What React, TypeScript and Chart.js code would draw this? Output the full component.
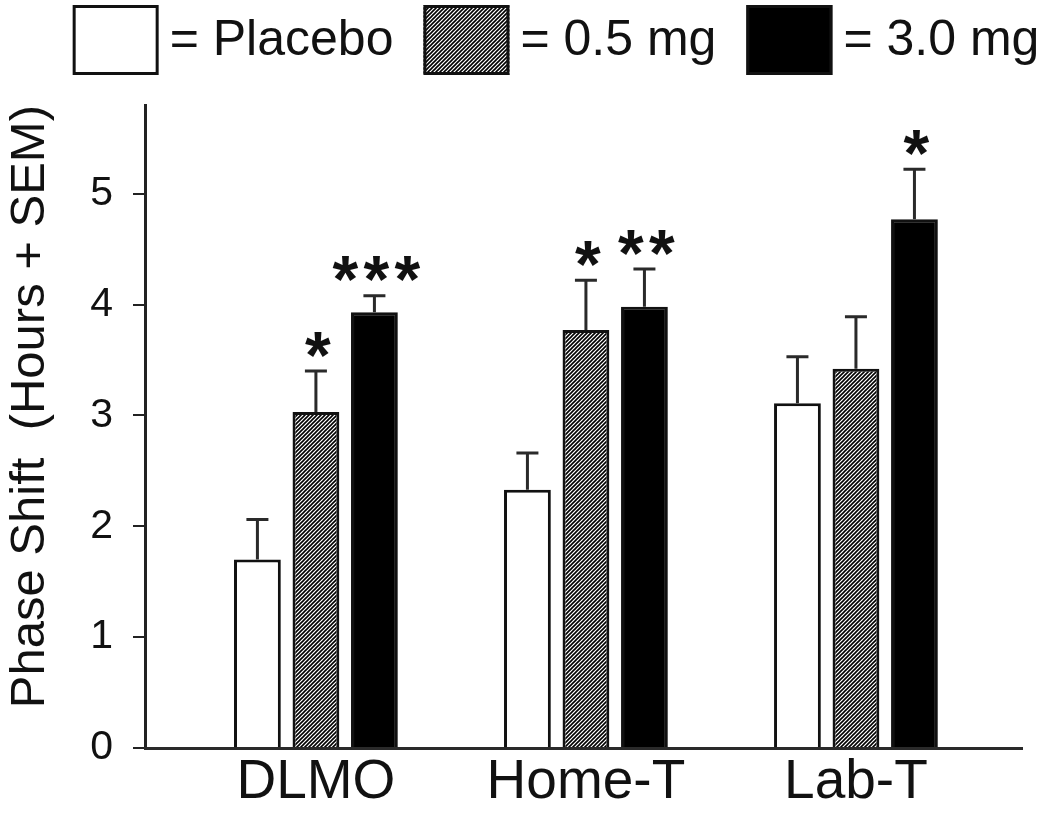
import React, { useEffect, useRef } from 'react';
import { Chart, registerables } from 'chart.js';

Chart.register(...registerables);

// ---------- data ----------
const categories = ['DLMO', 'Home-T', 'Lab-T'];
const seriesNames = ['= Placebo', '= 0.5 mg', '= 3.0 mg'];
const placeboMean = [1.7, 2.33, 3.11];
const placeboSem = [0.36, 0.33, 0.42];
const lowDoseMean = [3.03, 3.77, 3.42];
const lowDoseSem = [0.37, 0.45, 0.47];
const highDoseMean = [3.93, 3.98, 4.77];
const highDoseSem = [0.15, 0.34, 0.45];
const placeboSig = ['', '', ''];
const lowDoseSig = ['*', '*', ''];
const highDoseSig = ['***', '**', '*'];
const yTickValues = [0, 1, 2, 3, 4, 5];
const yAxisTitle = 'Phase Shift  (Hours + SEM)';

const FONT = '"Liberation Sans", Arial, Helvetica, sans-serif';

function makeHatch(): CanvasPattern | string {
  const c = document.createElement('canvas');
  c.width = 4;
  c.height = 4;
  const g = c.getContext('2d');
  if (!g) return '#888';
  g.fillStyle = '#ffffff';
  g.fillRect(0, 0, 4, 4);
  g.strokeStyle = '#000000';
  g.lineWidth = 1.6;
  g.beginPath();
  g.moveTo(-1, 5);
  g.lineTo(5, -1);
  g.moveTo(-1, 1);
  g.lineTo(1, -1);
  g.moveTo(3, 5);
  g.lineTo(5, 3);
  g.stroke();
  return g.createPattern(c, 'repeat') || '#888';
}

const means = [placeboMean, lowDoseMean, highDoseMean];
const sems = [placeboSem, lowDoseSem, highDoseSem];
const sigs = [placeboSig, lowDoseSig, highDoseSig];

const errorBarPlugin = {
  id: 'errorBars',
  afterDatasetsDraw(chart: any) {
    const ctx = chart.ctx;
    const yScale = chart.scales.y;
    ctx.save();
    chart.data.datasets.forEach((_ds: any, di: number) => {
      const meta = chart.getDatasetMeta(di);
      meta.data.forEach((bar: any, i: number) => {
        const top = yScale.getPixelForValue(means[di][i] + sems[di][i]);
        ctx.strokeStyle = '#2a2a2a';
        ctx.lineWidth = 3;
        ctx.beginPath();
        ctx.moveTo(bar.x, bar.y);
        ctx.lineTo(bar.x, top);
        ctx.moveTo(bar.x - 11, top);
        ctx.lineTo(bar.x + 11, top);
        ctx.stroke();
        const s = sigs[di][i];
        if (s) {
          ctx.font = `bold 66px ${FONT}`;
          ctx.fillStyle = '#111';
          ctx.textAlign = 'center';
          ctx.textBaseline = 'alphabetic';
          const m = ctx.measureText('*');
          const centerY = top - 27;
          const baseY = centerY + (m.actualBoundingBoxAscent - m.actualBoundingBoxDescent) / 2;
          const n = s.length;
          for (let k = 0; k < n; k++) {
            ctx.fillText('*', bar.x + 2 + (k - (n - 1) / 2) * 31, baseY);
          }
        }
      });
    });
    ctx.restore();
  },
};

const legendPlugin = {
  id: 'doseLegend',
  afterDraw(chart: any) {
    const ctx = chart.ctx;
    ctx.save();
    ctx.font = `50px ${FONT}`;
    const boxW = 86;
    const boxH = 70;
    const boxTop = 5;
    const gapBoxText = 11;
    const gapItems = 30;
    const items = chart.data.datasets.map((ds: any) => ({ ds, w: ctx.measureText(ds.label).width }));
    const total =
      items.reduce((s: number, it: any) => s + boxW + gapBoxText + it.w, 0) + gapItems * (items.length - 1);
    let x = 556 - total / 2;
    items.forEach((it: any) => {
      ctx.fillStyle = it.ds.backgroundColor;
      ctx.fillRect(x, boxTop, boxW, boxH);
      ctx.lineWidth = 3;
      ctx.strokeStyle = '#111';
      ctx.strokeRect(x + 1.5, boxTop + 1.5, boxW - 3, boxH - 3);
      ctx.fillStyle = '#111';
      ctx.textBaseline = 'middle';
      ctx.textAlign = 'left';
      ctx.fillText(it.ds.label, x + boxW + gapBoxText, boxTop + boxH / 2 + 1);
      x += boxW + gapBoxText + it.w + gapItems;
    });
    ctx.restore();
  },
};

export default function App() {
  const canvasRef = useRef<HTMLCanvasElement>(null);

  useEffect(() => {
    if (!canvasRef.current) return;
    const hatch = makeHatch();
    const fills = ['#ffffff', hatch, '#000000'];
    const chart = new Chart(canvasRef.current, {
      type: 'bar',
      data: {
        datasets: seriesNames.map((name, si) => ({
          label: name,
          data: categories.map((_c, i) => ({ x: i + 1, y: means[si][i] })),
          backgroundColor: fills[si] as any,
          borderColor: '#111',
          borderWidth: 3,
          borderSkipped: 'start',
          categoryPercentage: 0.65,
          barPercentage: 0.8,
        })),
      },
      options: {
        responsive: true,
        maintainAspectRatio: false,
        animation: false,
        layout: { padding: { top: 105, right: 28, left: 0, bottom: 0 } },
        plugins: {
          legend: { display: false },
          tooltip: { enabled: false },
          title: { display: false },
        },
        scales: {
          x: {
            type: 'linear',
            offset: false,
            min: 0.367,
            max: 3.615,
            afterBuildTicks: (scale: any) => {
              scale.ticks = categories.map((_c, i) => ({ value: i + 1 }));
            },
            afterFit: (scale: any) => {
              scale.height = 68;
            },
            grid: { display: false, drawTicks: false, offset: false },
            border: { display: true, color: '#2a2a2a', width: 3, z: 1 },
            ticks: {
              autoSkip: false,
              maxRotation: 0,
              padding: 2,
              color: '#111',
              font: { family: FONT, size: 55 },
              callback: (v: any) => categories[Math.round(v) - 1] ?? '',
            },
          },
          y: {
            min: 0,
            max: 5.8,
            afterBuildTicks: (scale: any) => {
              scale.ticks = yTickValues.map((v) => ({ value: v }));
            },
            afterFit: (scale: any) => {
              scale.width = 145;
            },
            grid: { drawOnChartArea: false, drawTicks: true, tickLength: 12, color: '#222', lineWidth: 2 },
            border: { display: true, color: '#222', width: 3 },
            ticks: {
              padding: 20,
              color: '#111',
              font: { family: FONT, size: 41 },
            },
            title: {
              display: true,
              text: yAxisTitle,
              align: 'end',
              color: '#111',
              font: { family: FONT, size: 49 },
              padding: { top: 1, bottom: 0 },
            },
          },
        },
      },
      plugins: [errorBarPlugin, legendPlugin],
    });
    return () => chart.destroy();
  }, []);

  return (
    <div style={{ position: 'absolute', left: 0, top: 0, width: 1050, height: 816, background: '#fff' }}>
      <canvas ref={canvasRef} />
    </div>
  );
}
